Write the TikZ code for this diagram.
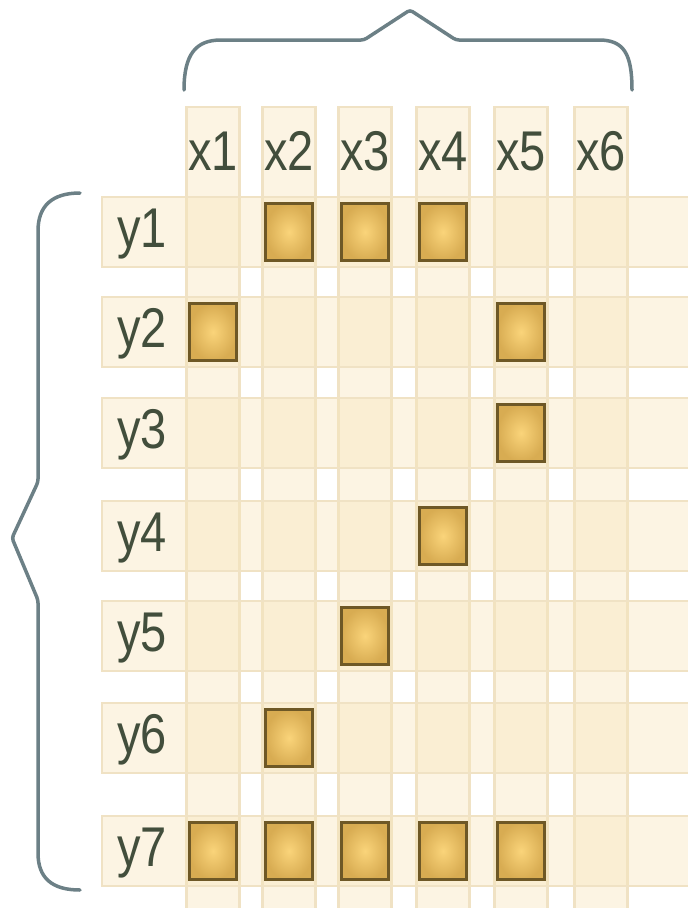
\documentclass[tikz,border=0pt]{standalone}
\usepackage{fontspec}
\setmainfont{Liberation Sans}
\newfontfamily\lblfont[FakeStretch=0.84]{Liberation Sans}
\definecolor{stripcol}{RGB}{247,229,188}
\definecolor{edgecol}{RGB}{240,226,196}
\definecolor{sqin}{RGB}{250,212,122}
\definecolor{sqout}{RGB}{216,172,82}
\definecolor{sqline}{RGB}{110,88,38}
\definecolor{bracecol}{RGB}{108,128,134}
\definecolor{labelcol}{RGB}{66,78,60}
\begin{document}
\begin{tikzpicture}[x=1pt, y=-1pt,
	strip/.style={rectangle, inner sep=0pt, fill=stripcol, fill opacity=0.42, draw=edgecol, line width=2.5pt},
	cell/.style={rectangle, inner sep=0pt, minimum width=47pt, minimum height=57pt, inner color=sqin, outer color=sqout, draw=sqline, line width=3pt},
	lbl/.style={inner sep=0pt, anchor=base, text=labelcol, font=\lblfont\fontsize{56}{56}\selectfont},
	brace/.style={draw=bracecol, line width=3.5pt, line cap=round, rounded corners=3pt}]
	\useasboundingbox (0,0) rectangle (688,908);
	% column strips and their labels
	\foreach \c [count=\i] in {213,289,365,443,521,601} {
		\node[strip, minimum width=53pt, minimum height=808pt] (col\i) at (\c,511) {};
		\node[lbl] (x\i) at (\c,170) {x\i};
	}
	% row strips and their labels
	\foreach \r [count=\j] in {232,332,433,536,636,738,851} {
		\node[strip, minimum width=598pt, minimum height=70pt] (row\j) at (401,\r) {};
		\node[lbl] (y\j) at (142,\r+15) {y\j};
	}
	% marked cells
	\foreach \i/\j in {2/1,3/1,4/1,1/2,5/2,5/3,4/4,3/5,2/6,1/7,2/7,3/7,4/7,5/7}
		\node[cell] (sq\i\j) at (col\i |- row\j) {};
	% top brace
	\draw[brace] (184,90) .. controls (184,54) and (196,40) .. (224,40) -- (364,40) -- (410,10) -- (456,40) -- (596,40) .. controls (624,40) and (632,54) .. (632,90);
	% left brace
	\draw[brace] (80,193) .. controls (52,193) and (38,206) .. (38,234) -- (38,482) -- (12,538) -- (38,600) -- (38,850) .. controls (38,878) and (52,890) .. (80,890);
\end{tikzpicture}
\end{document}
